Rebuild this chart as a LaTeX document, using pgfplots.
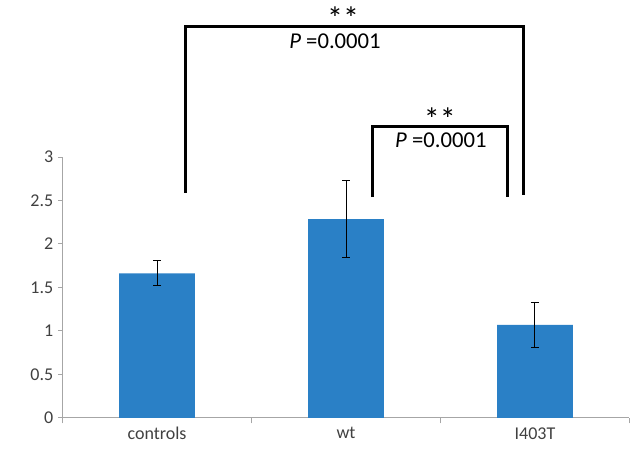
\documentclass[border=0pt]{standalone}
\usepackage{pgfplots}
\pgfplotsset{compat=1.18}
\usepackage{fontspec}
\setmainfont{Carlito}
\definecolor{barblue}{HTML}{2A80C6}
\definecolor{axisgray}{HTML}{A6A6A6}
\definecolor{textgray}{HTML}{404040}
\begin{document}
\begin{tikzpicture}
\begin{axis}[
  scale only axis, width=425.25pt, height=195.75pt,
  xmin=-0.5, xmax=2.5, ymin=0, ymax=3,
  axis lines=left,
  axis line style={-, draw=axisgray, line width=0.75pt},
  ybar, bar width=0.4,
  ytick={0,0.5,1,1.5,2,2.5,3},
  xtick={0,1,2}, xticklabels={controls,wt,I403T},
  minor xtick={-0.5,0.5,1.5,2.5},
  major x tick style={draw=none},
  tick align=outside,
  major tick length=3.5pt, minor tick length=4pt,
  tick style={draw=axisgray, line width=0.75pt},
  /pgf/number format/assume math mode=true,
  ticklabel style={font=\fontsize{13.5}{15}\selectfont, text=textgray},
  clip=false,
]
\addplot[fill=barblue, draw=none,
  error bars/.cd, y dir=both, y explicit,
  error bar style={black, line width=0.75pt},
  error mark options={black, line width=0.75pt, mark size=3pt, rotate=90}]
  coordinates {
    (0,1.663) +- (0,0.145)
    (1,2.285) +- (0,0.442)
    (2,1.069) +- (0,0.255)
  };
\path (axis cs:-0.831,-0.391) rectangle (axis cs:2.577,4.805);
\draw[line width=2.25pt, line join=miter] (axis cs:0.153,2.59) |- (axis cs:1.937,4.506) -- (axis cs:1.937,2.56);
\draw[line width=2.25pt, line join=miter] (axis cs:1.138,2.54) |- (axis cs:1.852,3.345) -- (axis cs:1.852,2.54);
\node[font=\fontsize{24}{26}\selectfont, text=black, inner sep=0pt, anchor=base] at (axis cs:0.985,4.47) {**};
\node[font=\fontsize{17}{20}\selectfont, text=black, inner sep=0pt] at (axis cs:0.942,4.33) {\textit{P} =0.0001};
\node[font=\fontsize{24}{26}\selectfont, text=black, inner sep=0pt, anchor=base] at (axis cs:1.497,3.31) {**};
\node[font=\fontsize{17}{20}\selectfont, text=black, inner sep=0pt] at (axis cs:1.502,3.195) {\textit{P} =0.0001};
\end{axis}
\end{tikzpicture}
\end{document}
